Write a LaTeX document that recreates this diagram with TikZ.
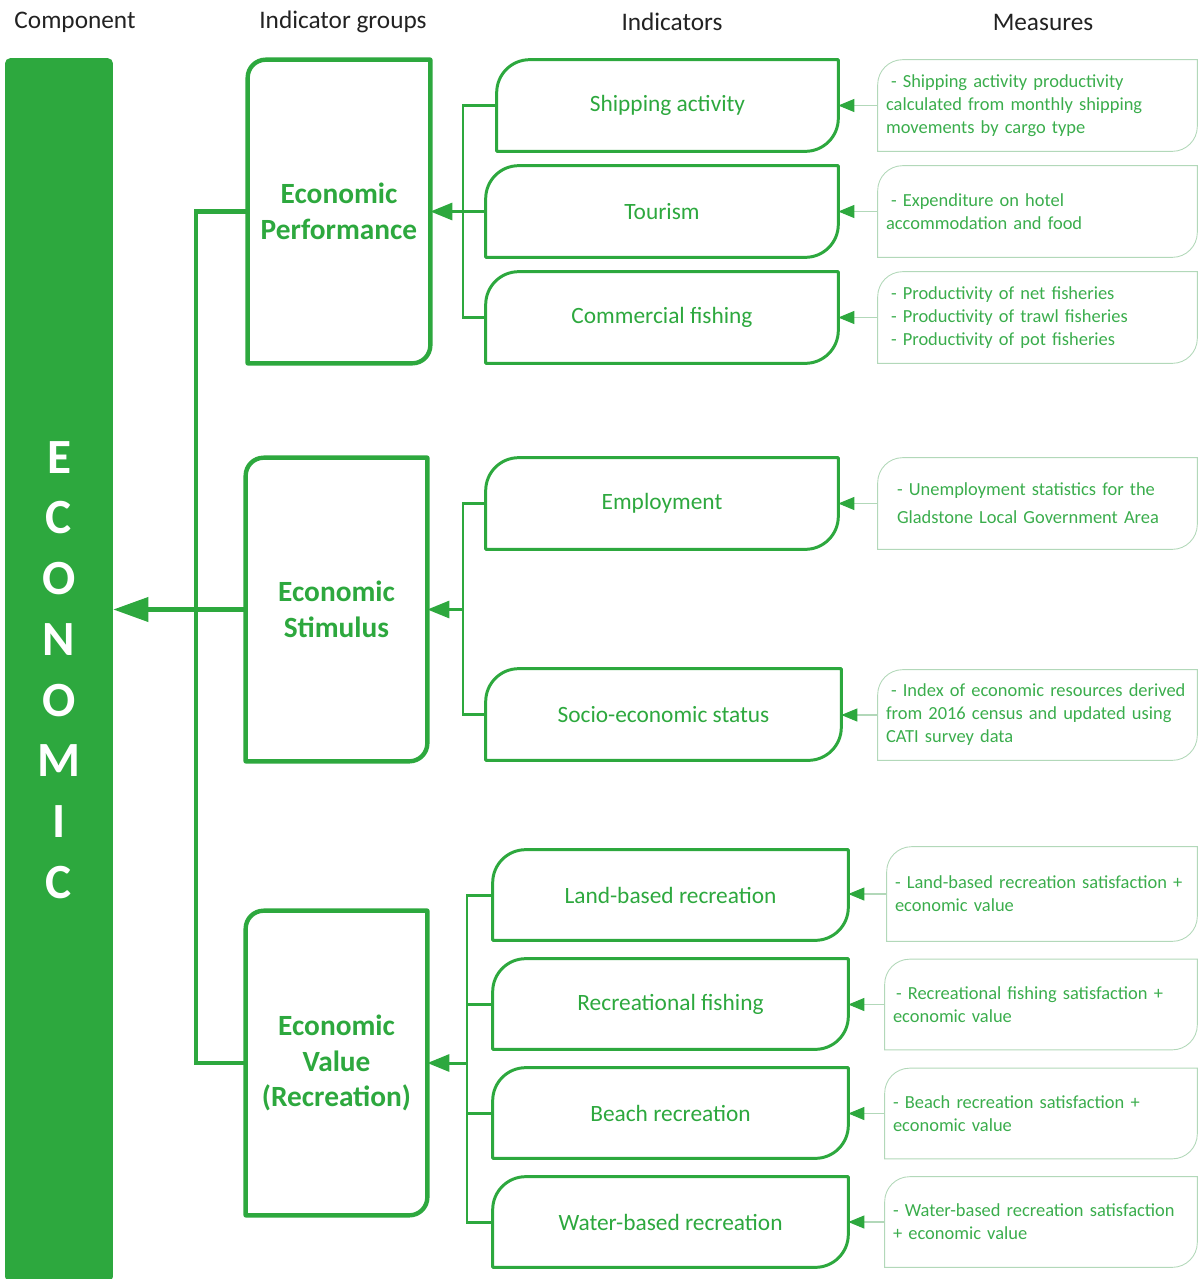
\documentclass[tikz,border=0pt]{standalone}
\usepackage{fontspec}
\setmainfont{Carlito}
\usepackage{xcolor}
\usepackage{tikz}
\usetikzlibrary{positioning,calc,arrows.meta}
\definecolor{ecogreen}{HTML}{2DA83E}
\definecolor{measgreen}{HTML}{3AAD4C}
\definecolor{measline}{HTML}{B2D8B9}
\definecolor{hdrgray}{HTML}{222222}

\newcommand{\tabshape}[3]{%
  \draw[#3] (#1.south west) -- ([yshift=-#2]#1.north west) arc[start angle=180,end angle=90,radius=#2]
    -- (#1.north east) -- ([yshift=#2]#1.south east) arc[start angle=0,end angle=-90,radius=#2] -- cycle;}

\begin{document}
\begin{tikzpicture}[x=0.02cm,y=-0.02cm,
  hdr/.style={font=\fontsize{14.4}{17}\selectfont, text=hdrgray},
  grp/.style={rectangle, inner sep=0pt, align=center, text=ecogreen,
    font=\bfseries\fontsize{16.7}{20.4}\selectfont},
  ind/.style={rectangle, inner sep=0pt, minimum height=1.82cm, text=ecogreen,
    font=\fontsize{13.3}{16}\selectfont},
  meas/.style={rectangle, inner xsep=0.16cm, inner ysep=0pt, align=left, text=measgreen,
    font=\fontsize{10.5}{13.1}\selectfont},
  grpborder/.style={draw=ecogreen, line width=2.5pt, line join=round},
  indborder/.style={draw=ecogreen, line width=1.7pt, line join=round},
  measborder/.style={draw=measline, line width=0.5pt},
  conn/.style={draw=ecogreen, line width=1.7pt},
  mainconn/.style={draw=ecogreen, line width=2.3pt},
  measconn/.style={draw=measline, line width=0.6pt, -{Triangle[length=0.32cm,width=0.26cm,color=ecogreen]}}]
  \useasboundingbox (0,0) rectangle (1198,1279);

  \node[hdr] (hcomp) at (75,22) {Component};
  \node[hdr] (hgrp) at (343,22) {Indicator groups};
  \node[hdr] (hind) at (672,22) {Indicators};
  \node[hdr] (hmeas) at (1043,22) {Measures};

  \node[fill=ecogreen, rounded corners=3pt, inner sep=0pt, minimum width=2.16cm, minimum height=24.48cm,
    text=white, align=center, font=\bfseries\fontsize{28}{34.6}\selectfont] (bar) at (59,670) {E\\C\\O\\N\\O\\M\\I\\C};

  \node[grp, minimum width=3.64cm, minimum height=6.06cm] (perf) at (339,211.5) {Economic\\Performance};
  \node[grp, minimum width=3.62cm, minimum height=6.06cm] (stim) at (336.5,609.5) {Economic\\Stimulus};
  \node[grp, minimum width=3.62cm, minimum height=6.08cm] (value) at (336.5,1063) {Economic\\Value\\(Recreation)};

  \node[ind, minimum width=6.82cm] (ship) at (667.5,105.5) {Shipping activity};
  \node[ind, minimum width=7.04cm] (tour) at (662,211.5) {Tourism};
  \node[ind, minimum width=7.04cm] (comm) at (662,317.5) {Commercial fishing};
  \node[ind, minimum width=7.04cm] (empl) at (662,503.5) {Employment};
  \node[ind, minimum width=7.10cm] (socio) at (663.5,714.5) {Socio-economic status};
  \node[ind, minimum width=7.10cm, minimum height=1.80cm] (land) at (670.5,895) {Land-based recreation};
  \node[ind, minimum width=7.10cm, minimum height=1.80cm] (recf) at (670.5,1004) {Recreational fishing};
  \node[ind, minimum width=7.10cm, minimum height=1.80cm] (beach) at (670.5,1113) {Beach recreation};
  \node[ind, minimum width=7.10cm, minimum height=1.80cm] (water) at (670.5,1222) {Water-based recreation};

  \node[meas, text width=6.06cm, minimum height=1.82cm] (mship) at (1037.5,105.5)
    {\hspace*{0.1cm}- Shipping activity productivity\\calculated from monthly shipping\\movements by cargo type};
  \node[meas, text width=6.06cm, minimum height=1.82cm] (mtour) at (1037.5,211.5)
    {\hspace*{0.1cm}- Expenditure on hotel\\accommodation and food};
  \node[meas, text width=6.06cm, minimum height=1.82cm] (mcomm) at (1037.5,317.5)
    {\hspace*{0.1cm}- Productivity of net fisheries\\\hspace*{0.1cm}- Productivity of trawl fisheries\\\hspace*{0.1cm}- Productivity of pot fisheries};
  \node[meas, text width=6.06cm, minimum height=1.82cm] (mempl) at (1037.5,503.5)
    {\hspace*{0.22cm}- Unemployment statistics for the\\[3pt]\hspace*{0.22cm}Gladstone Local Government Area};
  \node[meas, text width=6.06cm, minimum height=1.80cm] (msocio) at (1037.5,715)
    {\hspace*{0.1cm}- Index of economic resources derived\\from 2016 census and updated using\\CATI survey data};
  \node[meas, text width=5.88cm, minimum height=1.88cm] (mland) at (1042,894)
    {- Land-based recreation satisfaction +\\economic value};
  \node[meas, text width=5.92cm, minimum height=1.80cm] (mrecf) at (1041,1004.5)
    {\hspace*{0.06cm}- Recreational fishing satisfaction +\\economic value};
  \node[meas, text width=5.92cm, minimum height=1.80cm] (mbeach) at (1041,1113.5)
    {- Beach recreation satisfaction +\\economic value};
  \node[meas, text width=5.92cm, minimum height=1.80cm] (mwater) at (1041,1222)
    {- Water-based recreation satisfaction\\+ economic value};

  \foreach \g in {perf,stim,value} \tabshape{\g}{0.36cm}{grpborder};
  \foreach \n in {ship,tour,comm,empl,socio,land,recf,beach,water} \tabshape{\n}{0.66cm}{indborder};
  \foreach \m in {mship,mtour,mcomm,mempl,msocio,mland,mrecf,mbeach,mwater} \tabshape{\m}{0.5cm}{measborder};

  \foreach \m/\i in {mship/ship,mtour/tour,mcomm/comm,mempl/empl,msocio/socio,mland/land,mrecf/recf,mbeach/beach,mwater/water}
    \draw[measconn] (\m.west) -- (\m.west -| \i.east);

  \coordinate (j1) at (463,211.5);
  \coordinate (j2) at (463,609.5);
  \coordinate (j3) at (467,1063);
  \coordinate (jm) at (196,609.5);

  \draw[conn] (ship.west) -| (j1);
  \draw[conn] (comm.west) -| (j1);
  \draw[conn] (tour.west) -- (j1);
  \draw[conn, -{Triangle[length=0.44cm,width=0.34cm]}] (j1) -- (perf.east);

  \draw[conn] (empl.west) -| (j2);
  \draw[conn] (socio.west) -| (j2);
  \draw[conn, -{Triangle[length=0.44cm,width=0.34cm]}] (j2) -- (stim.east);

  \draw[conn] (land.west) -| (j3);
  \draw[conn] (recf.west) -| (j3);
  \draw[conn] (beach.west) -| (j3);
  \draw[conn] (water.west) -| (j3);
  \draw[conn, -{Triangle[length=0.44cm,width=0.34cm]}] (j3) -- (value.east);

  \draw[mainconn] (perf.west) -| (jm);
  \draw[mainconn] (value.west) -| (jm);
  \draw[mainconn] (stim.west) -- (jm);
  \draw[mainconn, -{Triangle[length=0.7cm,width=0.48cm]}] (jm) -- (jm -| bar.east);
\end{tikzpicture}
\end{document}
